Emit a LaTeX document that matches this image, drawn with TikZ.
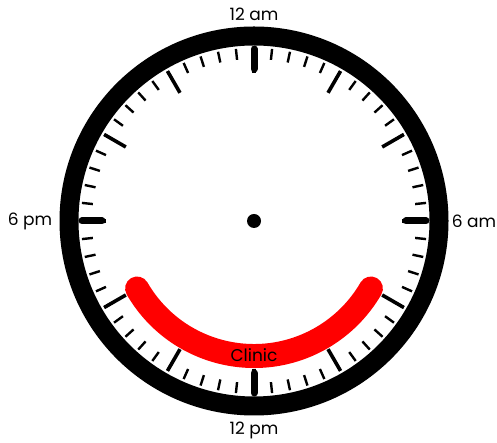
\documentclass[tikz,border=0pt]{standalone}
\usepackage{fontspec}
\setmainfont{Poppins}
\begin{document}
\begin{tikzpicture}[x=1pt,y=1pt,
  minortick/.style={line width=2.4pt},
  medtick/.style={line width=3.6pt},
  majortick/.style={line width=7pt,line cap=round},
  lbl/.style={font=\fontsize{17}{19}\selectfont}]
\useasboundingbox (0,0) rectangle (497,443);
\coordinate (c) at (254,222);
\draw[line width=19pt] (c) circle[radius=185];
\foreach \a in {0,6,...,354}{
  \draw[minortick] (c) ++(\a:162) -- ++(\a:11);
}
\foreach \a in {0,30,...,330}{
  \draw[medtick] (c) ++(\a:148) -- ++(\a:25);
}
\foreach \a in {0,90,180,270}{
  \draw[majortick] (c) ++(\a:152) -- ++(\a:20);
}
\fill (c) circle[radius=7];
\draw[red,line width=24pt,line cap=round] (c) ++(210:135) arc[start angle=210,end angle=330,radius=135];
\node[lbl] (clinic) at (254,88) {Clinic};
\node[lbl] (am12) at (254,429) {12 am};
\node[lbl] (pm12) at (254,13) {12 pm};
\node[lbl] (pm6) at (30,222) {6 pm};
\node[lbl] (am6) at (474,222) {6 am};
\end{tikzpicture}
\end{document}
